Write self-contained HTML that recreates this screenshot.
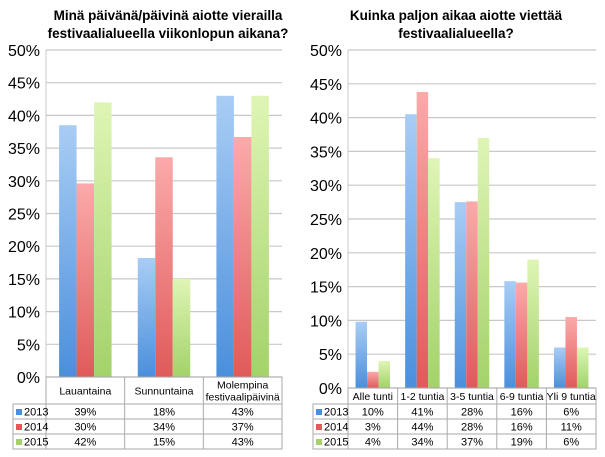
<!DOCTYPE html>
<html><head><meta charset="utf-8"><style>
body{margin:0;background:#fff;width:605px;height:452px;overflow:hidden;font-family:"Liberation Sans",sans-serif}
svg text{font-family:"Liberation Sans",sans-serif}
</style></head><body>
<svg id="c" width="605" height="452">
<defs>
<linearGradient id="gb" x1="0" y1="0" x2="0" y2="1"><stop offset="0" stop-color="#a9cdf5"/><stop offset="1" stop-color="#4a8fdc"/></linearGradient>
<linearGradient id="gr" x1="0" y1="0" x2="0" y2="1"><stop offset="0" stop-color="#fbaaaa"/><stop offset="1" stop-color="#e05a5a"/></linearGradient>
<linearGradient id="gg" x1="0" y1="0" x2="0" y2="1"><stop offset="0" stop-color="#dff5b5"/><stop offset="1" stop-color="#a3d26a"/></linearGradient>
</defs>
</svg>
<script>
const years=['2013','2014','2015'];
const leftCats=[['Lauantaina'],['Sunnuntaina'],['Molempina','festivaalipäivinä']];
const left2013=[38.5,18.2,43];
const left2014=[29.6,33.6,36.7];
const left2015=[42,15,43];
const leftLabels2013=['39%','18%','43%'];
const leftLabels2014=['30%','34%','37%'];
const leftLabels2015=['42%','15%','43%'];
const rightCats=[['Alle tunti'],['1-2 tuntia'],['3-5 tuntia'],['6-9 tuntia'],['Yli 9 tuntia']];
const right2013=[9.8,40.5,27.5,15.8,6];
const right2014=[2.4,43.8,27.6,15.6,10.5];
const right2015=[4,34,37,19,6];
const rightLabels2013=['10%','41%','28%','16%','6%'];
const rightLabels2014=['3%','44%','28%','16%','11%'];
const rightLabels2015=['4%','34%','37%','19%','6%'];
const ticks=['0%','5%','10%','15%','20%','25%','30%','35%','40%','45%','50%'];
const NS='http://www.w3.org/2000/svg';
const svg=document.getElementById('c');
function el(t,a,txt){const e=document.createElementNS(NS,t);for(const k in a)e.setAttribute(k,a[k]);if(txt!==undefined)e.textContent=txt;svg.appendChild(e);return e;}
const fills=['url(#gb)','url(#gr)','url(#gg)'];
const legCol=['#4a8fdc','#e05a5a','#a3d26a'];
function chart(o){
  const y=v=>o.y0-(v/50)*(o.y0-o.y50);
  const cw=(o.x1-o.x0)/o.cats.length;
  ticks.forEach((t,i)=>{const v=i*5;
    const g=el('line',{x1:o.x0,x2:o.x1,y1:y(v),y2:y(v),stroke:'#c8c8c8','stroke-width':1.2});
    
    const l=el('text',{x:o.x0-6,y:y(v)+6,'text-anchor':'end','font-size':16,fill:'#000'},t);
    
  });
  el('line',{x1:o.x0,x2:o.x0,y1:o.y50,y2:o.y0,stroke:'#c8c8c8'});
  const series=[o.s1,o.s2,o.s3];
  o.cats.forEach((c,i)=>{const cx=o.x0+cw*(i+0.5);
    series.forEach((s,j)=>{const r=el('rect',{x:cx-1.5*o.bw+j*o.bw,y:y(s[i]),width:o.bw,height:o.y0-y(s[i]),fill:fills[j]});
      });
  });
  // table
  const tb=o.tbot, rh=15, rt=tb-3*rh;
  el('rect',{x:o.x0,y:o.y0,width:o.x1-o.x0,height:rt-o.y0,fill:'none',stroke:'#aaa'});
  el('rect',{x:o.lx,y:rt,width:o.x1-o.lx,height:3*rh,fill:'none',stroke:'#aaa'});
  for(let i=1;i<3;i++)el('line',{x1:o.lx,x2:o.x1,y1:rt+i*rh,y2:rt+i*rh,stroke:'#aaa'});
  for(let i=0;i<o.cats.length;i++)el('line',{x1:o.x0+cw*i,x2:o.x0+cw*i,y1:o.y0,y2:tb,stroke:'#aaa'});
  o.cats.forEach((c,i)=>{const cx=o.x0+cw*(i+0.5);const my=(o.y0+rt)/2;
    c.forEach((ln,k)=>{const t=el('text',{x:cx,y:my+4+(k-(c.length-1)/2)*12,'text-anchor':'middle','font-size':10.5},ln);
      });
    o.labs.forEach((L,j)=>{el('text',{x:cx,y:rt+j*rh+11.5,'text-anchor':'middle','font-size':11},L[i]);});
  });
  years.forEach((yr,j)=>{
    const s=el('rect',{x:o.lx+3,y:rt+j*rh+5,width:6,height:6,fill:legCol[j]});
    
    el('text',{x:o.lx+11,y:rt+j*rh+11.5,'font-size':11},yr);
  });
  o.title.forEach((t,k)=>{const e=el('text',{x:o.tx,y:20+k*18,'text-anchor':'middle','font-size':13.5,'font-weight':'bold'},t);
    });
}
chart({x0:46,x1:282,y0:377,y50:50,lx:13,tbot:449,bw:17.5,cats:leftCats,s1:left2013,s2:left2014,s3:left2015,
  labs:[leftLabels2013,leftLabels2014,leftLabels2015],tx:168,title:['Minä päivänä/päivinä aiotte vieraillla'.replace('lll','ll'),'festivaalialueella viikonlopun aikana?']});
chart({x0:348,x1:596,y0:388,y50:50,lx:313,tbot:449,bw:11.5,cats:rightCats,s1:right2013,s2:right2014,s3:right2015,
  labs:[rightLabels2013,rightLabels2014,rightLabels2015],tx:456,title:['Kuinka paljon aikaa aiotte viettää','festivaalialueella?']});
</script>
</body></html>
